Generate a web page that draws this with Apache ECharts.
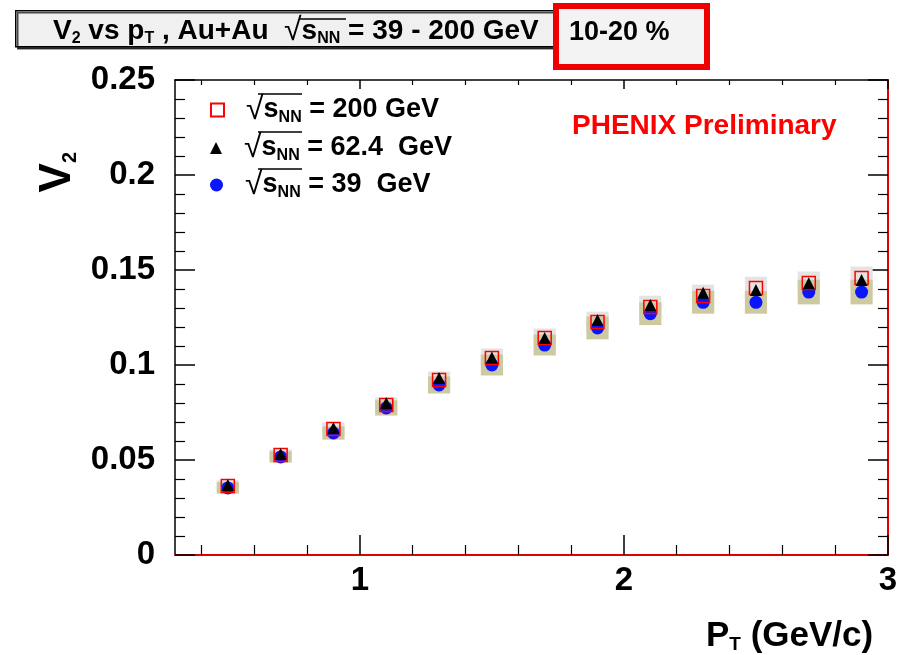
<!DOCTYPE html>
<html><head><meta charset="utf-8">
<script src="https://cdn.jsdelivr.net/npm/echarts@6/dist/echarts.min.js"></script>
<style>html,body{margin:0;padding:0;background:#fff}#c{width:908px;height:655px}</style>
</head><body><div id="c"></div>
<script>
const pT = [0.5, 0.7, 0.9, 1.1, 1.3, 1.5, 1.7, 1.9, 2.1, 2.3, 2.5, 2.7, 2.9];
const v2_200 = [0.0363, 0.0526, 0.0663, 0.0790, 0.0921, 0.1037, 0.1142, 0.1226, 0.1305, 0.1363, 0.1405, 0.1432, 0.1458];
const v2_624 = [0.0368, 0.0532, 0.0668, 0.0800, 0.0932, 0.1040, 0.1142, 0.1237, 0.1316, 0.1380, 0.1395, 0.1430, 0.1447];
const v2_39  = [0.0353, 0.0516, 0.0642, 0.0774, 0.0895, 0.1000, 0.1105, 0.1195, 0.1270, 0.1330, 0.1330, 0.1384, 0.1384];
const sys_200 = [0.003, 0.003, 0.0035, 0.004, 0.0045, 0.005, 0.005, 0.0055, 0.006, 0.006, 0.006, 0.006, 0.006];
const sys_39  = [0.003, 0.003, 0.0035, 0.004, 0.0045, 0.0055, 0.0055, 0.006, 0.006, 0.006, 0.006, 0.0065, 0.0065];
const xMajor = [1, 2, 3];
const xMinor = [0.4, 0.6, 0.8, 1.2, 1.4, 1.6, 1.8, 2.2, 2.4, 2.6, 2.8];
const legendNames = ['200 GeV', '62.4  GeV', '39  GeV'];

const FONT = 'Liberation Sans';
const chart = echarts.init(document.getElementById('c'), null, {renderer: 'canvas'});

function boxData(vals, sys) { return pT.map((x, i) => [x, vals[i] - sys[i], vals[i] + sys[i]]); }
function boxSeries(vals, sys, color) {
  return {
    type: 'custom', xAxisIndex: 0, yAxisIndex: 0, silent: true, z: 1,
    data: boxData(vals, sys),
    renderItem: function (params, api) {
      const hw = 0.042;
      const p1 = api.coord([api.value(0) - hw, api.value(2)]);
      const p2 = api.coord([api.value(0) + hw, api.value(1)]);
      return {type: 'rect', shape: {x: p1[0], y: p1[1], width: p2[0] - p1[0], height: p2[1] - p1[1]}, style: {fill: color}};
    }
  };
}
const gridPos = {left: 175, top: 80, right: 20, bottom: 100};
const labelStyle = {fontFamily: FONT, fontWeight: 'bold', fontSize: 33, color: '#000'};
const legendRich = {
  r: {fontFamily: FONT, fontSize: 32, color: '#000'},
  s: {fontFamily: FONT, fontWeight: 'bold', fontSize: 27, color: '#000'},
  sub: {fontFamily: FONT, fontWeight: 'bold', fontSize: 16, color: '#000', verticalAlign: 'bottom', padding: [14, 0, 0, 0]},
  t: {fontFamily: FONT, fontWeight: 'bold', fontSize: 27, color: '#000'}
};
function legendCfg(name, top, size) {
  return {
    data: [name], left: 205, top: top, itemWidth: size, itemHeight: size, itemGap: 0,
    selectedMode: false,
    formatter: n => '{r|√}{s|s}{sub|NN}{t| = ' + n + '}',
    textStyle: {rich: legendRich, padding: [0, 0, 0, 17]}
  };
}

chart.setOption({
  animation: false,
  grid: [Object.assign({show: false}, gridPos), Object.assign({show: false}, gridPos)],
  xAxis: [
    {type: 'value', gridIndex: 0, min: 0.3, max: 3, position: 'bottom',
     axisLine: {onZero: false, lineStyle: {color: '#e00000', width: 2}},
     axisTick: {inside: true, length: 20, customValues: xMajor, lineStyle: {color: '#000', width: 1.5}},
     axisLabel: Object.assign({customValues: xMajor, margin: 9, formatter: v => String(v)}, labelStyle),
     splitLine: {show: false}},
    {type: 'value', gridIndex: 0, min: 0.3, max: 3, position: 'top',
     axisLine: {onZero: false, lineStyle: {color: '#000', width: 1.5}},
     axisTick: {inside: true, length: 9, customValues: xMajor, lineStyle: {color: '#000', width: 1.5}},
     axisLabel: {show: false}, splitLine: {show: false}},
    {type: 'value', gridIndex: 1, min: 0.3, max: 3, position: 'bottom',
     axisLine: {show: false},
     axisTick: {inside: true, length: 10, customValues: xMinor, lineStyle: {color: '#000', width: 1.2}},
     axisLabel: {show: false}, splitLine: {show: false}},
    {type: 'value', gridIndex: 1, min: 0.3, max: 3, position: 'top',
     axisLine: {show: false},
     axisTick: {inside: true, length: 5, customValues: xMinor, lineStyle: {color: '#000', width: 1.2}},
     axisLabel: {show: false}, splitLine: {show: false}}
  ],
  yAxis: [
    {type: 'value', gridIndex: 0, min: 0, max: 0.25, interval: 0.05, position: 'left',
     axisLine: {show: true, onZero: false, lineStyle: {color: '#000', width: 1.5}},
     axisTick: {show: true, inside: true, length: 20, lineStyle: {color: '#000', width: 1.5}},
     minorTick: {show: true, splitNumber: 5, length: 10, lineStyle: {color: '#000', width: 1.2}},
     axisLabel: Object.assign({margin: 20, formatter: v => String(+v.toFixed(2))}, labelStyle),
     splitLine: {show: false}},
    {type: 'value', gridIndex: 0, min: 0, max: 0.25, interval: 0.05, position: 'right',
     axisLine: {show: true, onZero: false, lineStyle: {color: '#e00000', width: 2}},
     axisTick: {show: true, inside: true, length: 20, lineStyle: {color: '#000', width: 1.5}},
     minorTick: {show: true, splitNumber: 5, length: 10, lineStyle: {color: '#000', width: 1.2}},
     axisLabel: {show: false}, splitLine: {show: false}},
    {type: 'value', gridIndex: 1, min: 0, max: 0.25, show: false}
  ],
  legend: [
    legendCfg(legendNames[0], 89, 13),
    legendCfg(legendNames[1], 127, 12),
    legendCfg(legendNames[2], 164, 13)
  ],
  graphic: [
    {type: 'rect', left: 15, top: 10, shape: {width: 542, height: 36},
     style: {fill: '#f0f0f0', stroke: '#000', lineWidth: 1.5, shadowColor: 'rgba(0,0,0,0.7)', shadowOffsetX: 2, shadowOffsetY: 2, shadowBlur: 0}, z: 10},
    {type: 'text', left: 53, top: 15, z: 11,
     style: {text: '{a|V}{sub|2}{a| vs p}{sub|T}{a| , Au+Au  }{r|√}{a|s}{sub|NN}{a| = 39 - 200 GeV}',
       rich: {a: {fontFamily: FONT, fontWeight: 'bold', fontSize: 28, color: '#000'},
              r: {fontFamily: FONT, fontSize: 32, color: '#000'},
              sub: {fontFamily: FONT, fontWeight: 'bold', fontSize: 16, color: '#000', verticalAlign: 'bottom', padding: [15, 0, 0, 0]}}}},
    {type: 'rect', left: 553, top: 3, shape: {x: 3, y: 3, width: 151, height: 61}, z: 12,
     style: {fill: '#f3f3f3', stroke: '#ee0000', lineWidth: 6}},
    {type: 'text', left: 569, top: 19, z: 13,
     style: {text: '10-20 %', fontFamily: FONT, fontWeight: 'bold', fontSize: 27, fill: '#000'}},
    {type: 'text', left: 572, top: 112, z: 13,
     style: {text: 'PHENIX Preliminary', fontFamily: FONT, fontWeight: 'bold', fontSize: 28, fill: '#ff0000'}},
    {type: 'text', left: 36, top: 152, rotation: Math.PI / 2, z: 13,
     style: {text: '{a|V}{sub|2}', rich: {a: {fontFamily: FONT, fontWeight: 'bold', fontSize: 44, color: '#000'},
       sub: {fontFamily: FONT, fontWeight: 'bold', fontSize: 20, color: '#000', verticalAlign: 'bottom', padding: [22, 0, 0, 0]}}}},
    {type: 'text', left: 706, top: 619, z: 13,
     style: {text: '{a|P}{sub|T}{a| (GeV/c)}', rich: {a: {fontFamily: FONT, fontWeight: 'bold', fontSize: 35, color: '#000'},
       sub: {fontFamily: FONT, fontWeight: 'bold', fontSize: 19, color: '#000', verticalAlign: 'bottom', padding: [17, 0, 0, 0]}}}},
    {type: 'line', shape: {x1: 299, y1: 19, x2: 346, y2: 19}, style: {stroke: '#000', lineWidth: 1.5}, z: 13},
    {type: 'line', shape: {x1: 258, y1: 94, x2: 302, y2: 94}, style: {stroke: '#000', lineWidth: 1.5}, z: 13},
    {type: 'line', shape: {x1: 258, y1: 132, x2: 302, y2: 132}, style: {stroke: '#000', lineWidth: 1.5}, z: 13},
    {type: 'line', shape: {x1: 258, y1: 169, x2: 302, y2: 169}, style: {stroke: '#000', lineWidth: 1.5}, z: 13}
  ],
  series: [
    boxSeries(v2_200, sys_200, '#e4e4e4'),
    boxSeries(v2_39, sys_39, '#cdc9a0'),
    {name: legendNames[2], type: 'scatter', xAxisIndex: 0, yAxisIndex: 0, z: 3, symbol: 'circle', symbolSize: 13,
     itemStyle: {color: '#0a14ff', opacity: 1}, data: pT.map((x, i) => [x, v2_39[i]])},
    {name: legendNames[0], type: 'scatter', xAxisIndex: 0, yAxisIndex: 0, z: 4, symbol: 'rect', symbolSize: 13,
     itemStyle: {color: 'rgba(255,255,255,0)', borderColor: '#ff0000', borderWidth: 1.5, opacity: 1}, data: pT.map((x, i) => [x, v2_200[i]])},
    {name: legendNames[1], type: 'scatter', xAxisIndex: 0, yAxisIndex: 0, z: 5, symbol: 'triangle', symbolSize: 12,
     itemStyle: {color: '#000', opacity: 1}, data: pT.map((x, i) => [x, v2_624[i]])}
  ]
});
</script></body></html>
